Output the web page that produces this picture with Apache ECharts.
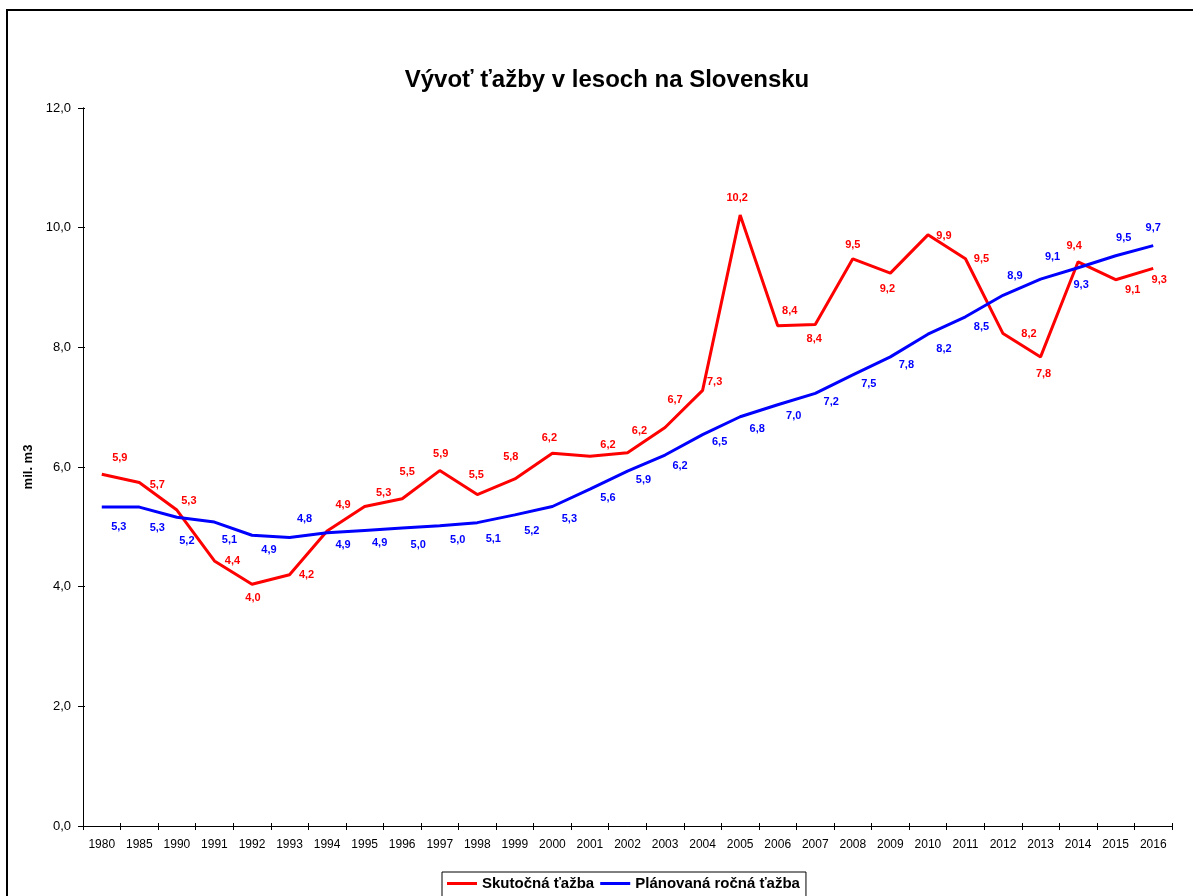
<!DOCTYPE html>
<html lang="sk">
<head>
    <meta charset="UTF-8">
    <title>Vývoť ťažby v lesoch na Slovensku</title>
    <script src="https://cdn.jsdelivr.net/npm/echarts@6/dist/echarts.min.js"></script>
    <style>
        html, body { margin: 0; padding: 0; background: #fff; }
    </style>
</head>
<body>
<div id="graf" style="width: 1193px;height:896px;"></div>
<script>
    // roky na osi x
    var roky = ['1980', '1985', '1990', '1991', '1992', '1993', '1994', '1995', '1996', '1997',
        '1998', '1999', '2000', '2001', '2002', '2003', '2004', '2005', '2006', '2007',
        '2008', '2009', '2010', '2011', '2012', '2013', '2014', '2015', '2016'];

    // mil. m3
    var skutocnaTazba = [5.88, 5.74, 5.28, 4.43, 4.04, 4.20, 4.93, 5.34, 5.47, 5.94,
        5.54, 5.80, 6.23, 6.18, 6.24, 6.66, 7.28, 10.21, 8.36, 8.38,
        9.48, 9.24, 9.88, 9.48, 8.23, 7.84, 9.43, 9.13, 9.32];

    var planovanaTazba = [5.33, 5.33, 5.16, 5.08, 4.86, 4.82, 4.90, 4.94, 4.98, 5.02,
        5.07, 5.20, 5.34, 5.63, 5.93, 6.20, 6.54, 6.84, 7.04, 7.23,
        7.54, 7.84, 8.22, 8.51, 8.87, 9.14, 9.33, 9.53, 9.70];

    // posun popiskov (px) - ako v povodnom grafe
    var posunCervena = [[18, -16], [18, 2], [12, -9], [18, 0], [1, 14], [17, 0], [16, -26], [19, -14], [5, -27], [1, -17],
        [-1, -20], [-4, -22], [-3, -15], [18, -11], [12, -22], [10, -28], [12, -8], [-3, -17], [12, -15], [-1, 14],
        [0, -14], [-3, 16], [16, 1], [16, 0], [26, 0], [3, 17], [-4, -16], [17, 10], [6, 12]];
    var posunModra = [[17, 20], [18, 21], [10, 24], [15, 18], [17, 15], [15, -19], [16, 12], [15, 13], [16, 17], [18, 14],
        [16, 16], [17, 16], [17, 12], [18, 9], [16, 9], [15, 11], [17, 7], [17, 12], [16, 11], [16, 9],
        [16, 9], [16, 8], [16, 15], [16, 10], [12, -19], [12, -22], [3, 17], [8, -18], [0, -18]];

    var pismo = '"Liberation Sans", Arial, sans-serif';

    function cislo(v) {
        return v.toFixed(1).replace('.', ',');
    }

    function body(hodnoty, posuny) {
        return hodnoty.map(function (v, i) {
            return { value: v, label: { offset: posuny[i] } };
        });
    }

    function seria(nazov, farba, hodnoty, posuny) {
        return {
            name: nazov,
            type: 'line',
            xAxisIndex: 0,
            yAxisIndex: 0,
            data: body(hodnoty, posuny),
            symbol: 'circle',
            symbolSize: 0,
            showSymbol: true,
            lineStyle: { color: farba, width: 3 },
            itemStyle: { color: farba },
            label: {
                show: true,
                position: 'inside',
                align: 'center',
                verticalAlign: 'middle',
                color: farba,
                fontFamily: pismo,
                fontWeight: 'bold',
                fontSize: 11,
                formatter: function (p) { return cislo(p.value); }
            },
            emphasis: { disabled: true },
            animation: false
        };
    }

    var myChart = echarts.init(document.getElementById('graf'));

    var option = {
        backgroundColor: '#fff',
        title: {
            text: 'Vývoť ťažby v lesoch na Slovensku',
            left: 607,
            top: 68,
            padding: 0,
            textAlign: 'center',
            textStyle: { fontFamily: pismo, fontWeight: 'bold', fontSize: 24, color: '#000' }
        },
        graphic: [{
            type: 'rect',
            shape: { x: 7, y: 10, width: 1200, height: 900 },
            style: { fill: 'none', stroke: '#000', lineWidth: 2 },
            silent: true
        }],
        legend: {
            data: ['Skutočná ťažba', 'Plánovaná ročná ťažba'],
            left: 442,
            top: 872,
            padding: [4, 6, 9, 5],
            itemGap: 6,
            itemWidth: 30,
            itemHeight: 3,
            icon: 'rect',
            borderColor: '#000',
            borderWidth: 1,
            textStyle: { fontFamily: pismo, fontWeight: 'bold', fontSize: 15, color: '#000' }
        },
        grid: { left: 83, right: 21, top: 108, bottom: 70 },
        xAxis: [{
            type: 'category',
            data: roky,
            boundaryGap: true,
            axisLine: { lineStyle: { color: '#000', width: 1 } },
            axisTick: { show: true, length: 4, interval: 0, lineStyle: { color: '#000' } },
            axisLabel: { interval: 0, color: '#000', fontFamily: pismo, fontSize: 12, margin: 13 }
        }, {
            // druha os len kvoli znackam cez os
            type: 'category',
            data: roky,
            position: 'bottom',
            boundaryGap: true,
            axisLine: { show: true, lineStyle: { color: '#000', width: 1 } },
            axisTick: { show: true, inside: true, length: 3, interval: 0, lineStyle: { color: '#000' } },
            axisLabel: { show: false }
        }],
        yAxis: [{
            type: 'value',
            min: 0,
            max: 12,
            interval: 2,
            name: 'mil. m3',
            nameLocation: 'middle',
            nameGap: 48,
            nameTextStyle: { fontFamily: pismo, fontWeight: 'bold', fontSize: 13, color: '#000' },
            axisLine: { show: true, lineStyle: { color: '#000', width: 1 } },
            axisTick: { show: true, length: 5, lineStyle: { color: '#000' } },
            axisLabel: { color: '#000', fontFamily: pismo, fontSize: 13, margin: 12, formatter: cislo },
            splitLine: { show: false }
        }, {
            type: 'value',
            position: 'left',
            min: 0,
            max: 12,
            interval: 2,
            axisLine: { show: true, lineStyle: { color: '#000', width: 1 } },
            axisTick: { show: true, inside: true, length: 2, lineStyle: { color: '#000' } },
            axisLabel: { show: false },
            splitLine: { show: false }
        }],
        series: [
            seria('Skutočná ťažba', '#ff0000', skutocnaTazba, posunCervena),
            seria('Plánovaná ročná ťažba', '#0000ff', planovanaTazba, posunModra)
        ]
    };

    myChart.setOption(option);
</script>
</body>
</html>
